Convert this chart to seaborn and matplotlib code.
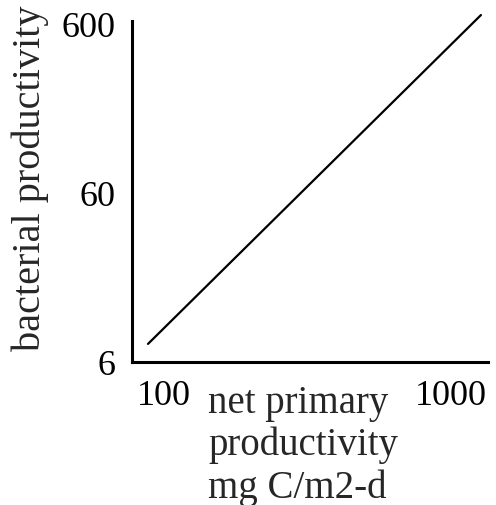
import matplotlib
matplotlib.use("Agg")
import matplotlib.pyplot as plt
import seaborn as sns
import pandas as pd
from matplotlib.ticker import FixedLocator, FixedFormatter, NullLocator

# data (log-log)
npp = [88.0, 1272.0]          # net primary productivity, mg C/m2-d
bact = [7.64, 678.0]          # bacterial productivity
x_ticks = [100, 1000]
x_tick_labels = ["100", "1000"]
y_ticks = [6, 60, 600]
y_tick_labels = ["6", "60", "600"]

df = pd.DataFrame({"npp": npp, "bact": bact})

sns.set_style("white")
plt.rcParams["font.family"] = ["Liberation Serif", "DejaVu Serif"]

fig = plt.figure(figsize=(4.96, 5.06), dpi=100)
ax = fig.add_axes([132/496, 1-363/506, (488-132)/496, (363-22)/506])

sns.lineplot(data=df, x="npp", y="bact", ax=ax, color="black", linewidth=1.6)
for l in ax.lines:
    l.set_clip_on(False)

ax.set_xscale("log")
ax.set_yscale("log")
ax.set_xlim(77.4, 1346)
ax.set_ylim(5.97, 625)

ax.xaxis.set_major_locator(FixedLocator(x_ticks))
ax.xaxis.set_major_formatter(FixedFormatter(x_tick_labels))
ax.xaxis.set_minor_locator(NullLocator())
ax.yaxis.set_major_locator(FixedLocator(y_ticks))
ax.yaxis.set_major_formatter(FixedFormatter(y_tick_labels))
ax.yaxis.set_minor_locator(NullLocator())
ax.tick_params(axis="both", length=0, labelsize=26, colors="black")
ax.tick_params(axis="x", pad=12)
ax.tick_params(axis="y", pad=12)

for s in ["top", "right"]:
    ax.spines[s].set_visible(False)
for s in ["left", "bottom"]:
    ax.spines[s].set_linewidth(2.2)
    ax.spines[s].set_color("black")

ax.set_xlabel("")
ax.set_ylabel("")
fig.text(30/496, 1-178/506, "bacterial productivity", rotation=90,
         ha="center", va="center", fontsize=29)
fig.text(208/496, 1-385/506, "net primary\nproductivity\nmg C/m2-d",
         ha="left", va="top", fontsize=28, linespacing=1.17,
         multialignment="left")

fig.savefig("out.png", dpi=100, facecolor="white")
